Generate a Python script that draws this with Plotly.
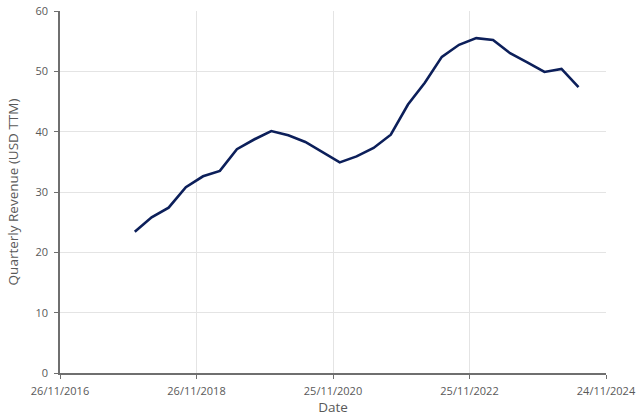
import pandas as pd
import plotly.graph_objects as go

# Quarter-end dates and trailing-twelve-month revenue (USD)
dates = ['2017-12-31', '2018-03-31', '2018-06-30', '2018-09-30',
         '2018-12-31', '2019-03-31', '2019-06-30', '2019-09-30',
         '2019-12-31', '2020-03-31', '2020-06-30', '2020-09-30',
         '2020-12-31', '2021-03-31', '2021-06-30', '2021-09-30',
         '2021-12-31', '2022-03-31', '2022-06-30', '2022-09-30',
         '2022-12-31', '2023-03-31', '2023-06-30', '2023-09-30',
         '2023-12-31', '2024-03-31', '2024-06-30']
revenue = [23.4, 25.8, 27.4, 30.8,
           32.6, 33.5, 37.1, 38.7,
           40.1, 39.4, 38.3, 36.6,
           34.9, 35.9, 37.3, 39.5,
           44.5, 48.1, 52.4, 54.4,
           55.5, 55.2, 53.0, 51.5,
           49.9, 50.4, 47.4]

# Axis ticks
x_ticks = ['2016-11-26', '2018-11-26', '2020-11-25', '2022-11-25', '2024-11-24']
y_ticks = [0, 10, 20, 30, 40, 50, 60]

x_dates = pd.to_datetime(dates)
x_tick_dates = pd.to_datetime(x_ticks)
x_tick_text = [d.strftime('%d/%m/%Y') for d in x_tick_dates]

fig = go.Figure(go.Scatter(
    x=x_dates,
    y=revenue,
    mode='lines',
    line=dict(color='#0c1f5a', width=2.6),
))

axis_font = dict(family='Open Sans, Liberation Sans, sans-serif', size=11, color='#595959')

fig.update_layout(
    width=640,
    height=418,
    margin=dict(l=60, r=34, t=11, b=45),
    plot_bgcolor='white',
    paper_bgcolor='white',
    showlegend=False,
    font=axis_font,
    xaxis=dict(
        range=[x_tick_dates[0], x_tick_dates[-1]],
        tickvals=x_tick_dates,
        ticktext=x_tick_text,
        showgrid=True,
        gridcolor='#e4e4e4',
        gridwidth=1,
        showline=True,
        linecolor='#6f6f6f',
        linewidth=1.5,
        ticks='outside',
        ticklen=4,
        tickcolor='#6f6f6f',
        ticklabelstandoff=3,
        zeroline=False,
        automargin=False,
        title=dict(text='Date', standoff=6, font=dict(size=13.5)),
    ),
    yaxis=dict(
        range=[0, 60],
        tickvals=y_ticks,
        showgrid=True,
        gridcolor='#e4e4e4',
        gridwidth=1,
        showline=True,
        linecolor='#6f6f6f',
        linewidth=1.5,
        ticks='outside',
        ticklen=4,
        tickcolor='#6f6f6f',
        ticklabelstandoff=4,
        zeroline=False,
        automargin=False,
        title=dict(text='Quarterly Revenue (USD TTM)', standoff=14, font=dict(size=13.5)),
    ),
)

# drop the default page margin so the figure sits at the window's corner
fig.write_html(
    "out.html",
    config={'displayModeBar': False},
    post_script="document.body.style.margin = '0';",
)
